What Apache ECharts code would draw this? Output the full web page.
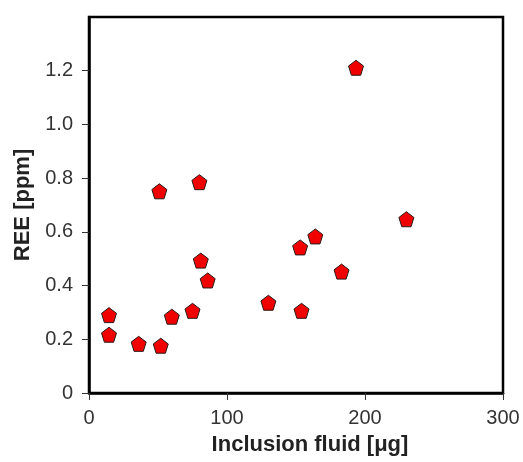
<!DOCTYPE html>
<html><head><meta charset="utf-8">
<script src="https://cdn.jsdelivr.net/npm/echarts@6/dist/echarts.min.js"></script>
<style>html,body{margin:0;padding:0;background:#fff}#c{width:523px;height:462px}</style>
</head><body><div id="c"></div>
<script>
var fluid = [14.5, 14.5, 36, 52, 60, 75, 81, 86, 51, 80, 130, 154, 153, 164, 183, 193.5, 230];
var ree   = [0.29, 0.217, 0.183, 0.176, 0.284, 0.306, 0.493, 0.419, 0.751, 0.785, 0.336, 0.306, 0.542, 0.583, 0.452, 1.211, 0.647];
var xTicks = [0, 100, 200, 300];
var yTicks = [0, 0.2, 0.4, 0.6, 0.8, 1.0, 1.2];

var pts = fluid.map(function (x, i) { return [x, ree[i]]; });
var pent = 'path://M0,-1 L0.951,-0.309 L0.588,0.809 L-0.588,0.809 L-0.951,-0.309 Z';
var font = 'Liberation Sans, Arial, sans-serif';
var chart = echarts.init(document.getElementById('c'));
chart.setOption({
  animation: false,
  grid: { left: 89, right: 20, top: 17, bottom: 69, show: true, borderColor: '#000', borderWidth: 2.5, backgroundColor: 'transparent' },
  xAxis: {
    type: 'value', min: 0, max: 300, interval: 100,
    name: 'Inclusion fluid [μg]', nameLocation: 'middle', nameGap: 41,
    nameTextStyle: { fontFamily: font, fontWeight: 'bold', fontSize: 22, color: '#222', padding: [0, 0, 0, 28] },
    axisLine: { show: true, lineStyle: { color: '#000', width: 2.5 } },
    axisTick: { show: true, length: 7, customValues: xTicks, lineStyle: { color: '#333', width: 1 } },
    axisLabel: { fontFamily: font, fontSize: 20, color: '#333', margin: 15, customValues: xTicks,
      formatter: function (v) { return String(v); } },
    splitLine: { show: false }
  },
  yAxis: {
    type: 'value', min: 0, max: 1.4, interval: 0.2,
    name: 'REE [ppm]', nameLocation: 'middle', nameGap: 54,
    nameTextStyle: { fontFamily: font, fontWeight: 'bold', fontSize: 22, color: '#222' },
    axisLine: { show: true, lineStyle: { color: '#000', width: 2.5 } },
    axisTick: { show: true, length: 7, customValues: yTicks, lineStyle: { color: '#333', width: 1 } },
    axisLabel: { fontFamily: font, fontSize: 20, color: '#333', margin: 16, customValues: yTicks,
      formatter: function (v) {
        var r = Math.round(v * 10) / 10;
        return r === 0 ? '0' : r.toFixed(1);
      } },
    splitLine: { show: false }
  },
  series: [{
    type: 'scatter', data: pts, symbol: pent, symbolSize: 15,
    itemStyle: { color: '#f00000', borderColor: '#2a1a1a', borderWidth: 1, opacity: 1 }
  }]
});
</script></body></html>
